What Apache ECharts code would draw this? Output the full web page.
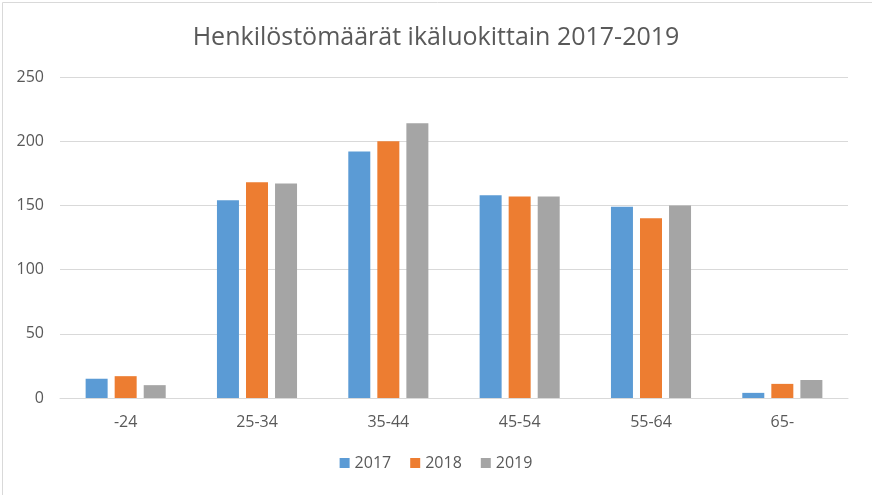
<!DOCTYPE html>
<html>
<head>
<meta charset="utf-8">
<script src="https://cdn.jsdelivr.net/npm/echarts@6/dist/echarts.min.js"></script>
<style>html,body{margin:0;padding:0;background:#fff}#c{width:872px;height:495px}</style>
</head>
<body>
<div id="c"></div>
<script>
const categories = ['-24', '25-34', '35-44', '45-54', '55-64', '65-'];
const seriesNames = ['2017', '2018', '2019'];
const values2017 = [15, 154, 192, 158, 149, 4];
const values2018 = [17, 168, 200, 157, 140, 11];
const values2019 = [10, 167, 214, 157, 150, 14];
const yTicks = [0, 50, 100, 150, 200, 250];
const colors = ['#5B9BD5', '#ED7D31', '#A5A5A5'];

const chart = echarts.init(document.getElementById('c'));
const font = '"Open Sans", "Noto Sans", sans-serif';
const allValues = [values2017, values2018, values2019];
chart.setOption({
  animation: false,
  textStyle: { fontFamily: font },
  title: {
    text: 'Henkilöstömäärät ikäluokittain 2017-2019',
    left: 'center',
    top: 20,
    textStyle: { fontFamily: font, fontSize: 25, fontWeight: 'normal', color: '#595959' }
  },
  graphic: [{
    type: 'rect', left: 0, top: 0,
    shape: { x: 0.5, y: 0.5, width: 871, height: 494 },
    style: { fill: 'none', stroke: '#d9d9d9', lineWidth: 1 }
  }],
  legend: {
    bottom: 19,
    left: 'center',
    itemWidth: 10, itemHeight: 10, itemGap: 19,
    icon: 'rect',
    textStyle: { fontFamily: font, fontSize: 16, color: '#595959' },
    data: seriesNames
  },
  grid: { left: 60, right: 24, top: 77, bottom: 97 },
  xAxis: {
    type: 'category',
    data: categories,
    axisLine: { lineStyle: { color: '#d9d9d9', width: 1 } },
    axisTick: { show: false },
    axisLabel: { fontFamily: font, fontSize: 16, color: '#595959', margin: 16 }
  },
  yAxis: {
    type: 'value',
    min: yTicks[0], max: yTicks[yTicks.length - 1], interval: 50,
    axisLine: { show: false },
    axisTick: { show: false },
    splitLine: { lineStyle: { color: '#d9d9d9', width: 1 } },
    axisLabel: { fontFamily: font, fontSize: 16, color: '#595959', margin: 16 }
  },
  series: seriesNames.map((n, i) => ({
    name: n,
    type: 'bar',
    data: allValues[i],
    barWidth: 22,
    barGap: '32%',
    itemStyle: { color: colors[i] }
  }))
});
</script>
</body>
</html>
